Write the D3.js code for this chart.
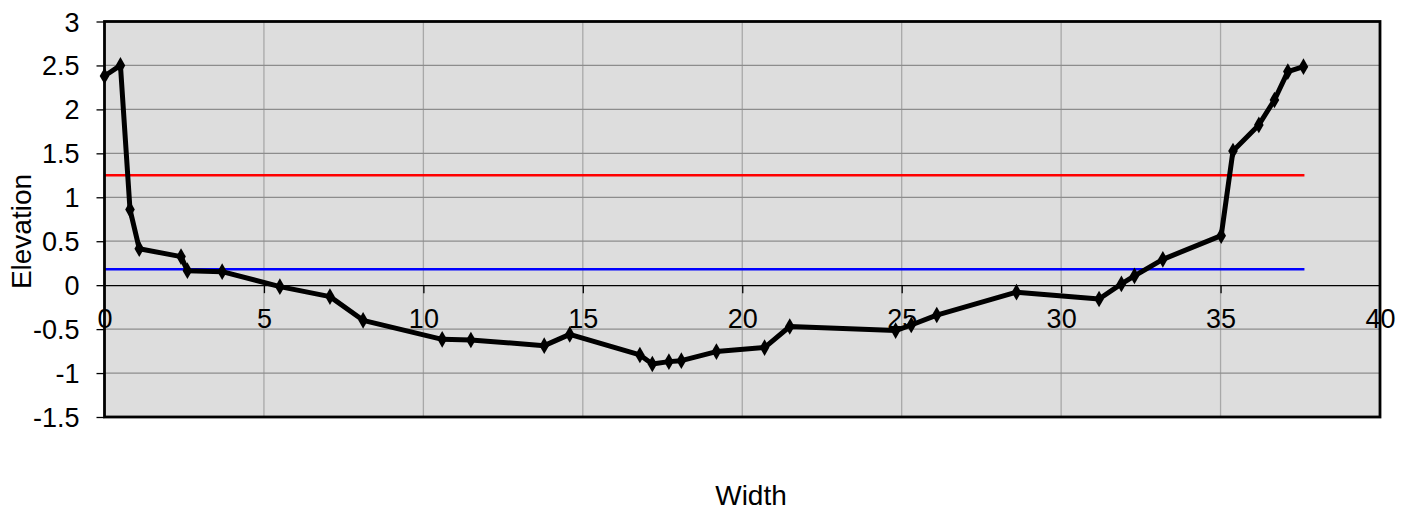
<!DOCTYPE html>
<html>
<head>
<meta charset="utf-8">
<script src="https://cdn.jsdelivr.net/npm/d3@7"></script>
<style>
  html, body { margin: 0; padding: 0; background: #fff; }
  svg { display: block; font-family: "Liberation Sans", Arial, sans-serif; }
</style>
</head>
<body>
<svg id="chart" width="1413" height="510"></svg>
<script>
// ---- data ----
const widthValues = [0, 0.5, 0.8, 1.09, 2.4, 2.6, 3.69, 5.5, 7.07, 8.11, 10.59, 11.49, 13.79, 14.59, 16.79, 17.18, 17.7, 18.09, 19.19, 20.7, 21.49, 24.81, 25.3, 26.1, 28.6, 31.19, 31.89, 32.3, 33.19, 35.02, 35.39, 36.2, 36.69, 37.11, 37.6];
const elevationValues = [2.38, 2.5, 0.86, 0.415, 0.325, 0.165, 0.154, -0.017, -0.13, -0.40, -0.616, -0.624, -0.688, -0.56, -0.794, -0.897, -0.87, -0.859, -0.756, -0.71, -0.47, -0.517, -0.453, -0.34, -0.08, -0.157, 0.014, 0.105, 0.294, 0.563, 1.527, 1.823, 2.107, 2.43, 2.486];
const redLevel = [{x: 0, y: 1.25}, {x: 37.63, y: 1.25}];
const blueLevel = [{x: 0, y: 0.18}, {x: 37.63, y: 0.18}];
const xTicks = [0, 5, 10, 15, 20, 25, 30, 35, 40];
const yTicks = [-1.5, -1, -0.5, 0, 0.5, 1, 1.5, 2, 2.5, 3];
const xTitle = "Width";
const yTitle = "Elevation";

// ---- layout ----
const svg = d3.select("#chart");
const L = 104.5, R = 1380, T = 21.5, B = 417;
const x = d3.scaleLinear().domain([0, 40]).range([L, R]);
const y = d3.scaleLinear().domain([-1.5, 3]).range([B, T]);

// plot background
svg.append("rect").attr("x", L).attr("y", T).attr("width", R - L).attr("height", B - T)
  .attr("fill", "#dddddd");

// grid lines
svg.append("g").selectAll("line").data(xTicks.slice(1, -1)).join("line")
  .attr("x1", d => x(d)).attr("x2", d => x(d)).attr("y1", T).attr("y2", B)
  .attr("stroke", "#a8a8a8").attr("stroke-width", 1.3);
svg.append("g").selectAll("line").data(yTicks.filter(d => d !== 0 && d !== 3 && d !== -1.5)).join("line")
  .attr("x1", L).attr("x2", R).attr("y1", d => y(d)).attr("y2", d => y(d))
  .attr("stroke", "#8c8c8c").attr("stroke-width", 1.3);

// x axis at y = 0
const xAxis = d3.axisBottom(x).tickValues(xTicks).tickSize(8).tickFormat(d3.format("d"));
const gx = svg.append("g").attr("transform", `translate(0,${y(0)})`).call(xAxis);
gx.select(".domain").remove();
gx.append("line").attr("x1", L).attr("x2", R).attr("y1", 0.5).attr("y2", 0.5)
  .attr("stroke", "#000").attr("stroke-width", 1.3);
gx.selectAll(".tick line").attr("stroke", "#000").attr("stroke-width", 1.3)
  .filter(d => d === 0 || d === 40).remove();
gx.selectAll(".tick text").attr("y", 43).attr("dy", null)
  .attr("font-size", 27).attr("fill", "#000").attr("font-family", "Liberation Sans, Arial, sans-serif");

// y axis
const yAxis = d3.axisLeft(y).tickValues(yTicks).tickSize(8).tickFormat(d => String(d));
const gy = svg.append("g").attr("transform", `translate(${L},0)`).call(yAxis);
gy.select(".domain").remove();
gy.selectAll(".tick line").attr("stroke", "#000").attr("stroke-width", 1.3);
gy.selectAll(".tick text").attr("x", -25).attr("dy", null).attr("y", 9.5)
  .attr("font-size", 27).attr("fill", "#000").attr("font-family", "Liberation Sans, Arial, sans-serif");

// level lines
const lineGen = d3.line().x(d => x(d.x)).y(d => y(d.y));
svg.append("path").datum(redLevel).attr("d", lineGen)
  .attr("stroke", "#ff0000").attr("stroke-width", 2.5).attr("fill", "none");
svg.append("path").datum(blueLevel).attr("d", lineGen)
  .attr("stroke", "#0000ff").attr("stroke-width", 2.5).attr("fill", "none");

// profile
const pts = widthValues.map((w, i) => ({x: w, y: elevationValues[i]}));
svg.append("path").datum(pts).attr("d", lineGen)
  .attr("stroke", "#000").attr("stroke-width", 5).attr("fill", "none")
  .attr("stroke-linejoin", "round");
svg.append("g").selectAll("path").data(pts).join("path")
  .attr("d", d3.symbol().type(d3.symbolDiamond).size(80))
  .attr("transform", d => `translate(${x(d.x)},${y(d.y)})`)
  .attr("fill", "#000");

// border
svg.append("rect").attr("x", L).attr("y", T).attr("width", R - L).attr("height", B - T)
  .attr("fill", "none").attr("stroke", "#000").attr("stroke-width", 2.8);

// titles
svg.append("text").attr("x", 751).attr("y", 505).attr("text-anchor", "middle")
  .attr("font-size", 28).attr("fill", "#000").text(xTitle);
svg.append("text").attr("transform", "translate(31,231.5) rotate(-90)").attr("text-anchor", "middle")
  .attr("font-size", 28).attr("fill", "#000").text(yTitle);
</script>
</body>
</html>
